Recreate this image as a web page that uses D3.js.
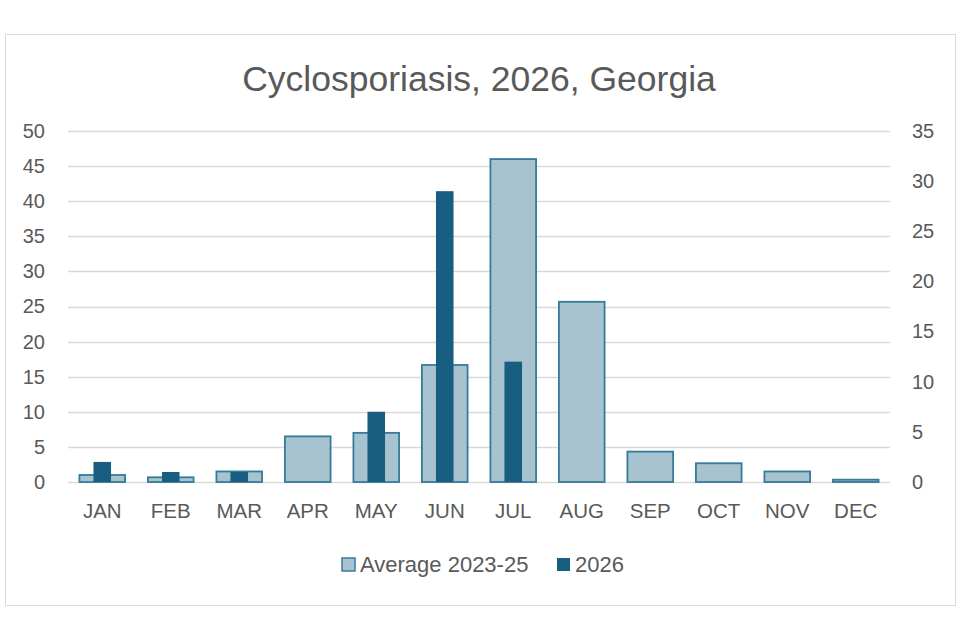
<!DOCTYPE html>
<html>
<head>
<meta charset="utf-8">
<script src="https://cdn.jsdelivr.net/npm/d3@7"></script>
<style>
  body { margin: 0; background: #fff; }
  text { font-family: "Liberation Sans", Arial, sans-serif; fill: #595959; }
</style>
</head>
<body>
<div id="chart"></div>
<script>
// Data
const months = ['JAN', 'FEB', 'MAR', 'APR', 'MAY', 'JUN', 'JUL', 'AUG', 'SEP', 'OCT', 'NOV', 'DEC'];
const average = [1, 0.67, 1.5, 6.5, 7, 16.67, 46, 25.67, 4.33, 2.67, 1.5, 0.33];
const current = [2, 1, 1, null, 7, 29, 12, null, null, null, null, null];
const leftTicks = [0, 5, 10, 15, 20, 25, 30, 35, 40, 45, 50];
const rightTicks = [0, 5, 10, 15, 20, 25, 30, 35];

// Sizes
const W = 960;
const H = 640;
const plot = { left: 68, right: 890, top: 131, bottom: 482 };
const fontFamily = '"Liberation Sans", Arial, sans-serif';

const svg = d3.select('#chart')
  .append('svg')
  .attr('width', W)
  .attr('height', H);

// chart frame
svg.append('rect')
  .attr('x', 5.5)
  .attr('y', 34.5)
  .attr('width', 950)
  .attr('height', 571)
  .attr('fill', '#fff')
  .attr('stroke', '#d9d9d9');

// title
svg.append('text')
  .attr('x', 479)
  .attr('y', 91)
  .attr('text-anchor', 'middle')
  .attr('font-size', 35.5)
  .text('Cyclosporiasis, 2026, Georgia');

// scales
const x = d3.scaleBand()
  .domain(months)
  .range([plot.left, plot.right]);
const yLeft = d3.scaleLinear()
  .domain([0, 50])
  .range([plot.bottom, plot.top]);
const yRight = d3.scaleLinear()
  .domain([0, 35])
  .range([plot.bottom, plot.top]);

// gridlines
svg.append('g')
  .selectAll('line')
  .data(leftTicks)
  .join('line')
  .attr('x1', plot.left)
  .attr('x2', plot.right)
  .attr('y1', (d) => Math.round(yLeft(d)) + 0.5)
  .attr('y2', (d) => Math.round(yLeft(d)) + 0.5)
  .attr('stroke', '#d9d9d9')
  .attr('stroke-width', 1.3);

// left axis
const axisL = svg.append('g')
  .attr('transform', `translate(${plot.left},0)`)
  .call(d3.axisLeft(yLeft).tickValues(leftTicks).tickSize(0).tickPadding(23));
axisL.select('.domain').remove();
axisL.selectAll('text')
  .attr('font-size', 20)
  .attr('fill', '#595959')
  .attr('font-family', fontFamily);

// right axis
const axisR = svg.append('g')
  .attr('transform', `translate(${plot.right},0)`)
  .call(d3.axisRight(yRight).tickValues(rightTicks).tickSize(0).tickPadding(22));
axisR.select('.domain').remove();
axisR.selectAll('text')
  .attr('font-size', 20)
  .attr('fill', '#595959')
  .attr('font-family', fontFamily);

// bottom axis labels
const axisB = svg.append('g')
  .attr('transform', `translate(0,${plot.bottom})`)
  .call(d3.axisBottom(x).tickSize(0).tickPadding(21));
axisB.select('.domain').remove();
axisB.selectAll('text')
  .attr('font-size', 20.5)
  .attr('fill', '#595959')
  .attr('font-family', fontFamily);

// average bars (primary axis)
const wideW = x.bandwidth() / 1.5;
svg.append('g')
  .selectAll('rect')
  .data(months.map((m, i) => ({ m, v: average[i] })))
  .join('rect')
  .attr('x', (d) => x(d.m) + (x.bandwidth() - wideW) / 2)
  .attr('y', (d) => yLeft(d.v))
  .attr('width', wideW)
  .attr('height', (d) => plot.bottom - yLeft(d.v))
  .attr('fill', '#a7c3cf')
  .attr('stroke', '#367b9b')
  .attr('stroke-width', 1.8);

// 2026 bars (secondary axis)
const narrowW = x.bandwidth() / 3.9;
svg.append('g')
  .selectAll('rect')
  .data(months.map((m, i) => ({ m, v: current[i] })).filter((d) => d.v != null))
  .join('rect')
  .attr('x', (d) => x(d.m) + (x.bandwidth() - narrowW) / 2)
  .attr('y', (d) => yRight(d.v))
  .attr('width', narrowW)
  .attr('height', (d) => plot.bottom - yRight(d.v))
  .attr('fill', '#175e80');

// legend
const legend = svg.append('g');
legend.append('rect')
  .attr('x', 342)
  .attr('y', 558)
  .attr('width', 13)
  .attr('height', 13)
  .attr('fill', '#a7c3cf')
  .attr('stroke', '#367b9b')
  .attr('stroke-width', 1.5);
legend.append('text')
  .attr('x', 360)
  .attr('y', 572)
  .attr('font-size', 22)
  .text('Average 2023-25');
legend.append('rect')
  .attr('x', 557)
  .attr('y', 558)
  .attr('width', 13)
  .attr('height', 13)
  .attr('fill', '#175e80');
legend.append('text')
  .attr('x', 575)
  .attr('y', 572)
  .attr('font-size', 22)
  .text('2026');
</script>
</body>
</html>
